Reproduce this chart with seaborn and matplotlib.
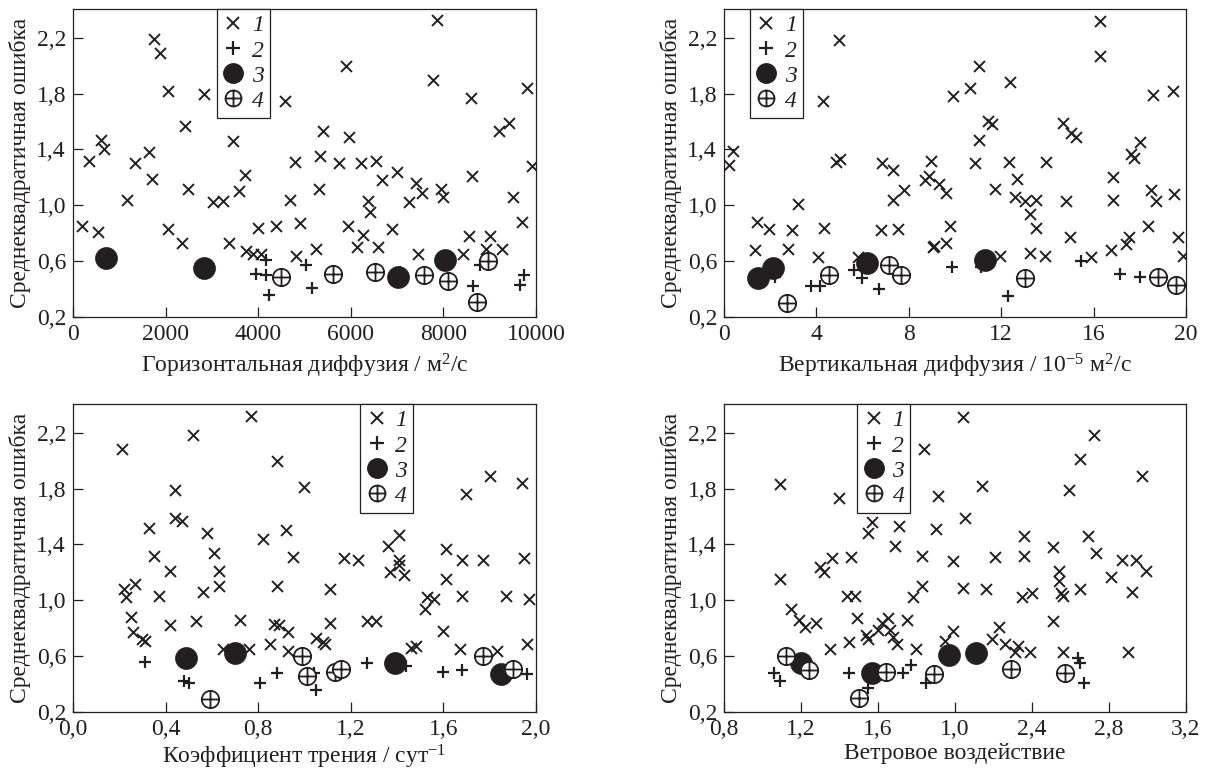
import numpy as np
import pandas as pd
import matplotlib
matplotlib.use("Agg")
import matplotlib.pyplot as plt
import seaborn as sns
from matplotlib.path import Path
from matplotlib.lines import Line2D

sns.set_theme(style="ticks")
plt.rcParams['font.family'] = ['Liberation Serif', 'DejaVu Serif']
plt.rcParams['mathtext.fontset'] = 'custom'
plt.rcParams['mathtext.rm'] = 'Liberation Serif'
plt.rcParams['mathtext.it'] = 'Liberation Serif:italic'

INK = '#231f20'

# ---------------- data ----------------
# Panel A: horizontal diffusion
hd_x1 = [200, 540, 350, 610, 660, 1170, 1330, 1640, 1710, 1750, 1870, 2050, 2050, 2360, 2410, 2480,
         2820, 3020, 3230, 3380, 3460, 3590, 3710, 3740, 3890, 4000, 4070, 4380, 4590, 4680, 4790,
         4900, 4820,
         7860, 5900, 7770, 8590, 9800, 9210, 9420, 5400, 5960, 5340, 5750, 6220, 6550, 6990, 6670,
         7410, 7530, 7250, 7960, 8000, 8610, 9910, 9510, 9690, 5320, 6380, 6420, 5930, 6270, 6890,
         6130, 6580, 5250, 7460, 8560, 8430, 9010, 8920, 9260]
hd_y1 = [0.85, 0.81, 1.32, 1.47, 1.40, 1.04, 1.30, 1.38, 1.19, 2.19, 2.09, 1.82, 0.83, 0.73, 1.57, 1.12,
         1.80, 1.02, 1.03, 0.73, 1.46, 1.10, 1.22, 0.67, 0.65, 0.84, 0.65, 0.85, 1.75, 1.04, 1.31,
         0.87, 0.64,
         2.33, 2.00, 1.90, 1.77, 1.84, 1.53, 1.59, 1.53, 1.49, 1.35, 1.30, 1.30, 1.32, 1.24, 1.18,
         1.16, 1.09, 1.02, 1.12, 1.06, 1.21, 1.28, 1.06, 0.88, 1.12, 1.03, 0.95, 0.85, 0.79, 0.83,
         0.70, 0.70, 0.69, 0.65, 0.78, 0.65, 0.78, 0.69, 0.69]
hd_x2 = [3960, 4160, 4180, 4230, 5030, 5160, 7070, 8790, 8650, 9740, 9650]
hd_y2 = [0.51, 0.50, 0.61, 0.36, 0.57, 0.41, 0.52, 0.57, 0.42, 0.50, 0.43]
hd_x3 = [720, 2820, 7030, 8040]
hd_y3 = [0.62, 0.55, 0.49, 0.61]
hd_x4 = [4500, 5610, 6520, 7580, 8110, 8730, 8970]
hd_y4 = [0.49, 0.51, 0.52, 0.50, 0.46, 0.31, 0.60]

# Panel B: vertical diffusion
vd_x1 = [0.22, 0.39, 1.33, 1.43, 1.95, 2.77, 2.95, 3.20, 4.06, 4.35, 4.28, 4.97, 4.86, 5.04, 5.79,
         6.84, 7.31, 7.33, 7.81, 6.80, 7.52, 8.72, 8.86, 8.96, 9.03,
         9.33, 9.62, 9.79, 9.62, 9.11, 9.91, 10.66, 11.06, 11.03, 10.85, 11.42, 11.61, 11.75, 11.93,
         12.39, 12.36, 12.68, 12.58, 13.05, 13.49, 13.26, 13.52, 13.23, 13.88, 13.95, 14.67, 15.03,
         15.22, 14.81, 14.96, 15.90, 16.26, 16.26, 16.83, 16.83, 16.76, 17.41, 17.53, 17.63, 17.77,
         18.02, 18.35, 18.49, 18.71, 18.57, 19.43, 19.46, 19.65, 19.89]
vd_y1 = [1.29, 1.39, 0.68, 0.88, 0.83, 0.69, 0.82, 1.01, 0.63, 0.84, 1.75, 2.18, 1.31, 1.33, 0.63,
         1.30, 1.25, 1.04, 1.11, 0.82, 0.83, 1.18, 1.21, 1.32, 0.70,
         1.15, 1.09, 0.85, 0.73, 0.71, 1.78, 1.84, 2.00, 1.47, 1.30, 1.60, 1.58, 1.12, 0.64,
         1.88, 1.31, 1.19, 1.06, 1.03, 1.04, 0.94, 0.84, 0.66, 0.64, 1.31, 1.59, 1.52,
         1.49, 1.03, 0.77, 0.63, 2.32, 2.07, 1.20, 1.04, 0.68, 0.72, 0.77, 1.37, 1.34,
         1.45, 0.85, 1.11, 1.03, 1.79, 1.82, 1.08, 0.77, 0.64]
vd_x2 = [2.23, 3.78, 4.14, 5.65, 5.98, 6.73, 9.88, 11.13, 12.29, 15.46, 17.15, 17.99]
vd_y2 = [0.49, 0.42, 0.42, 0.54, 0.48, 0.40, 0.56, 0.56, 0.35, 0.60, 0.51, 0.49]
vd_x3 = [1.47, 2.12, 6.18, 11.28]
vd_y3 = [0.48, 0.55, 0.59, 0.61]
vd_x4 = [2.74, 4.54, 7.16, 7.67, 13.01, 18.78, 19.58]
vd_y4 = [0.30, 0.50, 0.57, 0.50, 0.48, 0.49, 0.43]

# Panel C: friction coefficient
fr_x1 = [0.21, 0.22, 0.23, 0.27, 0.25, 0.26, 0.30, 0.31, 0.33, 0.35, 0.37, 0.42, 0.42, 0.44, 0.44,
         0.47, 0.52, 0.53, 0.56, 0.58, 0.61, 0.63, 0.63, 0.65, 0.72, 0.76, 0.77, 0.82, 0.88, 0.88,
         0.85, 0.87, 0.89, 0.92, 0.93, 0.93, 0.95, 1.00,
         1.05, 1.08, 1.09, 1.11, 1.11, 1.17, 1.23, 1.27, 1.31, 1.36, 1.41, 1.41, 1.41, 1.37, 1.43,
         1.46, 1.48, 1.53, 1.52, 1.56, 1.61, 1.61, 1.68, 1.77, 1.70, 1.80, 1.94, 1.95, 1.97, 1.87,
         1.68, 1.60, 1.67, 1.83, 1.96]
fr_y1 = [2.08, 1.08, 1.02, 1.12, 0.88, 0.77, 0.72, 0.71, 1.52, 1.32, 1.03, 1.21, 0.82, 1.79, 1.59,
         1.57, 2.18, 0.85, 1.06, 1.48, 1.34, 1.21, 1.10, 0.65, 0.86, 0.65, 2.32, 1.44, 2.00, 1.10,
         0.69, 0.83, 0.82, 1.50, 0.77, 0.64, 1.31, 1.81,
         0.73, 0.70, 0.69, 0.84, 1.08, 1.30, 1.29, 0.85, 0.85, 1.39, 1.47, 1.29, 1.25, 1.20, 1.18,
         0.66, 0.67, 1.02, 0.94, 1.01, 1.15, 1.37, 1.29, 1.29, 1.76, 1.89, 1.84, 1.30, 1.01, 1.03,
         1.03, 0.78, 0.65, 0.64, 0.69]
fr_x2 = [0.31, 0.48, 0.50, 0.81, 0.88, 1.04, 1.05, 1.27, 1.44, 1.60, 1.68, 1.96]
fr_y2 = [0.56, 0.42, 0.41, 0.41, 0.48, 0.48, 0.36, 0.55, 0.53, 0.49, 0.50, 0.47]
fr_x3 = [0.49, 0.70, 1.39, 1.85]
fr_y3 = [0.59, 0.62, 0.55, 0.47]
fr_x4 = [0.59, 0.99, 1.01, 1.13, 1.16, 1.77, 1.90]
fr_y4 = [0.29, 0.60, 0.46, 0.49, 0.51, 0.60, 0.51]

# Panel D: wind forcing
wf_x1 = [1.09, 1.09, 1.15, 1.19, 1.22, 1.28, 1.30, 1.32, 1.36, 1.35, 1.40, 1.44, 1.45, 1.46, 1.49,
         1.48, 1.55, 1.57, 1.54, 1.55, 1.60, 1.62, 1.65, 1.66, 1.68, 1.70, 1.69, 1.71, 1.75, 1.78,
         1.80, 1.83, 1.83, 1.84,
         2.04, 1.91, 1.90, 1.99, 2.05, 2.14, 2.21, 2.04, 2.16, 1.99, 1.95, 2.19, 2.23, 2.26, 2.31,
         2.33, 2.39, 2.36, 2.36, 2.35, 2.40, 2.51, 2.51, 2.54, 2.54, 2.55, 2.56, 2.59, 2.56, 2.65,
         2.65, 2.72, 2.69, 2.73, 2.81, 2.87, 2.94, 2.99, 2.92, 2.97, 2.90]
wf_y1 = [1.83, 1.15, 0.94, 0.86, 0.81, 0.84, 1.24, 1.20, 1.30, 0.65, 1.73, 1.03, 0.70, 1.31, 0.87,
         1.03, 1.48, 1.56, 0.75, 0.72, 0.79, 0.84, 0.87, 0.79, 0.74, 0.69, 1.39, 1.53, 0.86, 1.02,
         0.65, 1.10, 1.32, 2.08,
         2.31, 1.75, 1.51, 1.28, 1.59, 1.82, 1.31, 1.09, 1.08, 0.78, 0.71, 0.72, 0.81, 0.69, 0.63,
         0.67, 0.63, 1.46, 1.32, 1.02, 1.05, 0.85, 1.38, 1.21, 1.14, 1.05, 1.03, 1.79, 0.63, 1.08,
         2.01, 2.18, 1.46, 1.34, 1.17, 1.29, 1.29, 1.21, 1.06, 1.89, 0.63]
wf_x2 = [1.06, 1.09, 1.45, 1.55, 1.73, 1.77, 1.85, 2.64, 2.65, 2.67]
wf_y2 = [0.48, 0.42, 0.48, 0.37, 0.48, 0.54, 0.41, 0.59, 0.55, 0.41]
wf_x3 = [1.20, 1.57, 1.97, 2.11]
wf_y3 = [0.55, 0.48, 0.61, 0.62]
wf_x4 = [1.12, 1.24, 1.50, 1.64, 1.89, 2.29, 2.57]
wf_y4 = [0.60, 0.50, 0.30, 0.49, 0.47, 0.51, 0.48]

y_ticks = [0.2, 0.6, 1.0, 1.4, 1.8, 2.2]
y_ticklabels = ['0,2', '0,6', '1,0', '1,4', '1,8', '2,2']

hd_ticks = [0, 2000, 4000, 6000, 8000, 10000]
hd_labels = ['0', '2000', '4000', '6000', '8000', '10000']
vd_ticks = [0, 4, 8, 12, 16, 20]
vd_labels = ['0', '4', '8', '12', '16', '20']
fr_ticks = [0.0, 0.4, 0.8, 1.2, 1.6, 2.0]
fr_labels = ['0,0', '0,4', '0,8', '1,2', '1,6', '2,0']
wf_ticks = [0.8, 1.2, 1.6, 2.0, 2.4, 2.8, 3.2]
wf_labels = ['0,8', '1,2', '1,6', '1,0', '2,4', '2,8', '3,2']

series_labels = ['1', '2', '3', '4']
y_title = 'Среднеквадратичная ошибка'

# ---------------- style ----------------
circ = Path.unit_circle()
cross = Path([(-1, 0), (1, 0), (0, -1), (0, 1)],
             [Path.MOVETO, Path.LINETO, Path.MOVETO, Path.LINETO])
oplus = Path.make_compound_path(circ, cross)

fig = plt.figure(figsize=(12.06, 7.78), dpi=100)

panels = [
    dict(rect=[0.0605, 0.5925, 0.3839, 0.3959], xs=(hd_x1, hd_x2, hd_x3, hd_x4),
         ys=(hd_y1, hd_y2, hd_y3, hd_y4), xlim=(0, 10000), ticks=hd_ticks, labels=hd_labels,
         xlabel='Горизонтальная диффузия / м$^2$/с', leg=0.311, lpad=5),
    dict(rect=[0.6003, 0.5925, 0.3831, 0.3959], xs=(vd_x1, vd_x2, vd_x3, vd_x4),
         ys=(vd_y1, vd_y2, vd_y3, vd_y4), xlim=(0, 20), ticks=vd_ticks, labels=vd_labels,
         xlabel='Вертикальная диффузия / 10$^{-5}$ м$^2$/с', leg=0.056, lpad=5),
    dict(rect=[0.0605, 0.0848, 0.3839, 0.3959], xs=(fr_x1, fr_x2, fr_x3, fr_x4),
         ys=(fr_y1, fr_y2, fr_y3, fr_y4), xlim=(0, 2.0), ticks=fr_ticks, labels=fr_labels,
         xlabel='Коэффициент трения / сут$^{-1}$', leg=0.62, lpad=2),
    dict(rect=[0.6003, 0.0848, 0.3831, 0.3959], xs=(wf_x1, wf_x2, wf_x3, wf_x4),
         ys=(wf_y1, wf_y2, wf_y3, wf_y4), xlim=(0.8, 3.2), ticks=wf_ticks, labels=wf_labels,
         xlabel='Ветровое воздействие', leg=0.288, lpad=2),
]

FS = 17

for p in panels:
    ax = fig.add_axes(p['rect'])
    x1, x2, x3, x4 = p['xs']
    y1, y2, y3, y4 = p['ys']
    sns.scatterplot(x=x1, y=y1, ax=ax, marker='x', color=INK, s=62, linewidth=1.4, zorder=3)
    sns.scatterplot(x=x2, y=y2, ax=ax, marker='+', color=INK, s=78, linewidth=1.6, zorder=4)
    sns.scatterplot(x=x3, y=y3, ax=ax, marker='o', color=INK, edgecolor=INK, s=250,
                    linewidth=0.5, zorder=5)
    sns.scatterplot(x=x4, y=y4, ax=ax, marker=oplus, facecolor='white', edgecolor=INK, s=155,
                    linewidth=1.3, zorder=6)
    ax.set_xlim(*p['xlim'])
    ax.set_ylim(0.2, 2.405)
    ax.set_xticks(p['ticks'])
    ax.set_xticklabels(p['labels'])
    ax.set_yticks(y_ticks)
    ax.set_yticklabels(y_ticklabels)
    ax.tick_params(direction='in', length=7, width=0.9, colors=INK, labelsize=FS,
                   top=False, right=False, pad=5)
    for sp in ax.spines.values():
        sp.set_visible(True)
        sp.set_linewidth(0.9)
        sp.set_color(INK)
    ax.set_xlabel(p['xlabel'], fontsize=FS, color=INK, labelpad=p['lpad'])
    ax.set_ylabel(y_title, fontsize=FS, color=INK, labelpad=4)

    handles = [
        Line2D([], [], ls='none', marker='x', color=INK, markersize=8.5, markeredgewidth=1.4),
        Line2D([], [], ls='none', marker='+', color=INK, markersize=9.5, markeredgewidth=1.6),
        Line2D([], [], ls='none', marker='o', color=INK, markersize=14),
        Line2D([], [], ls='none', marker=oplus, markerfacecolor='white', markeredgecolor=INK,
               markersize=11.5, markeredgewidth=1.3),
    ]
    leg = ax.legend(handles, series_labels, loc='upper left', bbox_to_anchor=(p['leg'], 1.0),
                    borderaxespad=0, frameon=True, fancybox=False, framealpha=1,
                    edgecolor=INK, prop={'style': 'italic', 'size': FS},
                    handlelength=0.9, handletextpad=0.35, labelspacing=0.15, borderpad=0.25)
    leg.get_frame().set_linewidth(0.9)
    leg.set_zorder(10)
    for t in leg.get_texts():
        t.set_color(INK)

fig.savefig('out.png', dpi=100)
